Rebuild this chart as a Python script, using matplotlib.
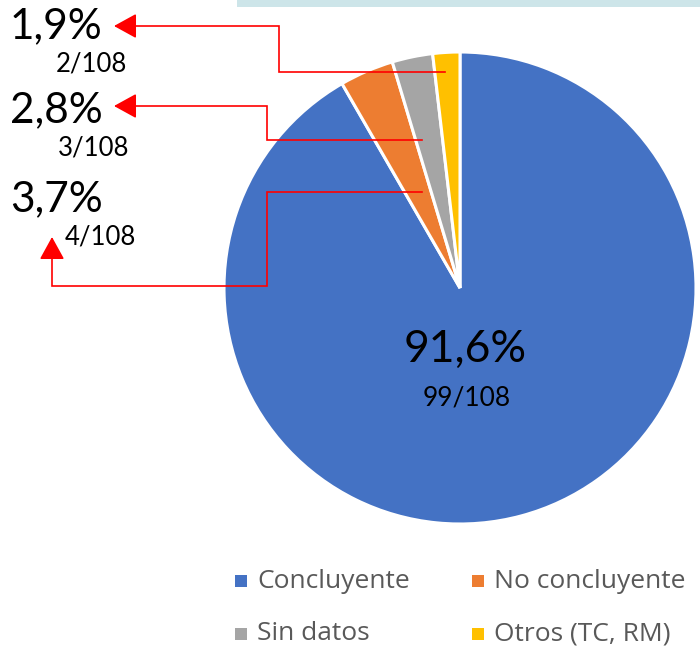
import matplotlib.pyplot as plt
from matplotlib.patches import Rectangle

# data
labels = ['Concluyente', 'No concluyente', 'Sin datos', 'Otros (TC, RM)']
counts = [99, 4, 3, 2]
total = 108
pcts = ['91,6%', '3,7%', '2,8%', '1,9%']
colors = ['#4472C4', '#ED7D31', '#A5A5A5', '#FFC000']

plt.rcParams['font.family'] = ['Lato', 'DejaVu Sans']

W, H = 700, 648
fig = plt.figure(figsize=(W / 100, H / 100), dpi=100)
ax = fig.add_axes([0, 0, 1, 1])


def Y(py):
    # pixel row -> data y
    return H - py


# light band at the top
ax.add_patch(Rectangle((237, Y(7)), W - 237, 7, color='#cde5e9', lw=0))

wedges, _ = ax.pie(counts, colors=colors, startangle=90, counterclock=False,
                   center=(460, Y(288)), radius=236, frame=True,
                   wedgeprops=dict(edgecolor='white', linewidth=2.2))
ax.set_xlim(0, W)
ax.set_ylim(0, H)
ax.set_aspect('equal')
ax.axis('off')

# big slice label
ax.text(465, Y(349), pcts[0], fontsize=32, ha='center', va='center')
ax.text(467, Y(398), '%d/%d' % (counts[0], total), fontsize=19,
        ha='center', va='center')

# small slice labels on the left
small = [(3, 26, 56), (2, 110, 58), (1, 199, 65)]
for idx, ybig, xsmall in small:
    ax.text(10, Y(ybig), pcts[idx], fontsize=30.5, ha='left', va='center')
    ax.text(xsmall, Y(ybig + 38), '%d/%d' % (counts[idx], total),
            fontsize=18.5, ha='left', va='center')

red = '#FF0000'
paths = [
    [(445, 72), (279, 72), (279, 26), (128, 26), (114, 26)],
    [(422, 140), (267, 140), (267, 106), (128, 106), (114, 106)],
    [(422, 192), (267, 192), (267, 286), (52, 286), (52, 251), (52, 237)],
]
for p in paths:
    xs = [pt[0] for pt in p[:-1]]
    ys = [Y(pt[1]) for pt in p[:-1]]
    ax.plot(xs, ys, color=red, lw=1.2, solid_joinstyle='miter')
    ax.annotate('', xy=(p[-1][0], Y(p[-1][1])),
                xytext=(p[-2][0], Y(p[-2][1])),
                arrowprops=dict(arrowstyle='-|>,head_length=1.0,head_width=0.55',
                                color=red, lw=1.2, mutation_scale=14,
                                shrinkA=0, shrinkB=0))

# legend
leg_pos = [(235, 581), (472, 581), (235, 634), (472, 634)]
for (lx, ly), lab, col in zip(leg_pos, labels, colors):
    ax.add_patch(Rectangle((lx, Y(ly) - 6), 12, 12, color=col, lw=0))
    ax.text(lx + 22, Y(ly), lab, fontsize=19, ha='left', va='center',
            color='#595959', family=['Open Sans', 'DejaVu Sans'])

fig.savefig('out.png', dpi=100)
